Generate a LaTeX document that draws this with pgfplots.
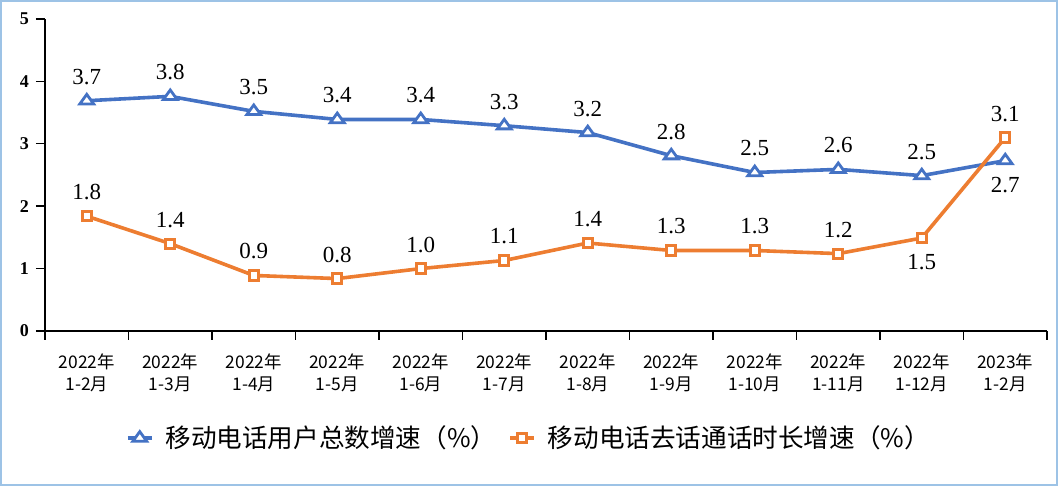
\documentclass[border=0pt]{standalone}
\usepackage{fontspec}
\usepackage{pgfplots}
\usepackage{pgfplotstable}
\pgfplotsset{compat=1.18}
\setmainfont{Liberation Serif}
\newfontfamily\cjk{Noto Sans CJK SC}
\definecolor{serA}{HTML}{4472C4}
\definecolor{serB}{HTML}{ED7D31}
\definecolor{frameblue}{HTML}{9DC3E6}

% dy: +1 label above the point, -1 below
\pgfplotstableread{
x y lab dy
0 3.69 3.7 1
1 3.76 3.8 1
2 3.52 3.5 1
3 3.39 3.4 1
4 3.39 3.4 1
5 3.29 3.3 1
6 3.18 3.2 1
7 2.81 2.8 1
8 2.54 2.5 1
9 2.59 2.6 1
10 2.49 2.5 1
11 2.73 2.7 -1
}\users

\pgfplotstableread{
x y lab dy
0 1.84 1.8 1
1 1.40 1.4 1
2 0.89 0.9 1
3 0.84 0.8 1
4 1.00 1.0 1
5 1.13 1.1 1
6 1.41 1.4 1
7 1.29 1.3 1
8 1.29 1.3 1
9 1.24 1.2 1
10 1.49 1.5 -1
11 3.10 3.1 1
}\calls

\begin{document}
\begin{tikzpicture}
\useasboundingbox (0,0) rectangle (529pt,243pt);
\draw[frameblue, line width=1pt] (0.5pt,0.5pt) rectangle (528.5pt,242.5pt);
\begin{axis}[
  at={(22.5pt,77.5pt)}, anchor=south west,
  scale only axis, width=501pt, height=156pt,
  axis lines=left, axis line style={-, line width=0.8pt},
  xmin=-0.5, xmax=11.5, ymin=0, ymax=5,
  xtick={-0.5,0.5,...,11.5},
  x tick label as interval=true,
  xticklabels={{2022年\\1-2月},{2022年\\1-3月},{2022年\\1-4月},{2022年\\1-5月},
    {2022年\\1-6月},{2022年\\1-7月},{2022年\\1-8月},{2022年\\1-9月},
    {2022年\\1-10月},{2022年\\1-11月},{2022年\\1-12月},{2023年\\1-2月}},
  xticklabel style={font=\cjk\fontsize{8.7}{11}\selectfont, align=center, yshift=-3.5pt},
  ytick={0,...,5},
  yticklabel style={font=\bfseries\fontsize{9}{9}\selectfont},
  /pgf/number format/assume math mode=true,
  tick align=outside, major tick length=4.5pt,
  tick style={black, line width=0.7pt},
  clip=false,
  point meta=explicit symbolic,
  nodes near coords={\pgfplotspointmeta},
  visualization depends on={\thisrow{dy} \as \dy},
  every node near coord/.append style={font=\fontsize{11.5}{12}\selectfont,
    black, anchor=center, inner sep=0pt, yshift=\dy*12pt},
  legend columns=2,
  legend style={at={(0.484,-0.343)}, anchor=center, draw=none,
    font=\cjk\fontsize{12.8}{14}\selectfont,
    /tikz/every odd column/.append style={column sep=4pt},
    /tikz/every even column/.append style={column sep=4pt}},
  legend image code/.code={
    \draw[mark repeat=2, mark phase=2] plot coordinates {(0pt,0pt) (6pt,0pt) (12pt,0pt)};}
]
\addplot[serA, line width=1.8pt, mark=triangle*,
  mark options={fill=white, draw=serA, line width=1.4pt, yscale=0.8}, mark size=4pt]
  table[x=x, y=y, meta=lab] {\users};
\addlegendentry{移动电话用户总数增速（\%）}
\addplot[serB, line width=1.8pt, mark=square*,
  mark options={fill=white, draw=serB, line width=1.5pt}, mark size=2.3pt]
  table[x=x, y=y, meta=lab] {\calls};
\addlegendentry{移动电话去话通话时长增速（\%）}
\end{axis}
\end{tikzpicture}
\end{document}
